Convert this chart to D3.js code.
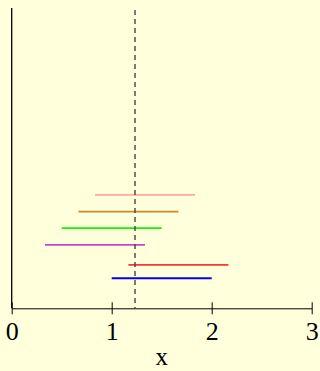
<!DOCTYPE html>
<html>
<head>
<meta charset="utf-8">
<script src="https://cdn.jsdelivr.net/npm/d3@7"></script>
<style>
  body { margin: 0; background: #ffffdc; }
  svg { display: block; }
  text { font-family: "Liberation Serif", "Times New Roman", Times, serif; }
</style>
</head>
<body>
<svg id="chart"></svg>
<script>
// interval segments, bottom to top
var segColors = ['#0000ff', '#ff3333', '#cc44cc', '#00ff00', '#cc8833', '#ffaaa0'];
var segLow = [1.0, 1.167, 0.333, 0.5, 0.667, 0.833];
var segHigh = [2.0, 2.167, 1.333, 1.5, 1.667, 1.833];
var segY = [1.8, 2.6, 3.8, 4.8, 5.8, 6.8];
var refX = 1.233;
var xTicks = [0, 1, 2, 3];
var xLabel = 'x';

var width = 320, height = 371;
var plotLeft = 11.7, plotRight = 311.7, plotTop = 8, plotBottom = 308.3;

var svg = d3.select('#chart')
	.attr('width', width)
	.attr('height', height)
	.style('background', '#ffffdc');

var x = d3.scaleLinear().domain([0, 3]).range([plotLeft, plotRight]);
var y = d3.scaleLinear().domain([0, 18]).range([plotBottom, plotTop]);

//y axis line
svg.append('line')
	.attr('x1', plotLeft).attr('x2', plotLeft)
	.attr('y1', plotTop).attr('y2', plotBottom)
	.attr('stroke', '#000')
	.attr('stroke-width', 1.3);

//x axis
var xAxis = svg.append('g')
	.attr('transform', 'translate(0,' + plotBottom + ')')
	.call(d3.axisBottom(x).tickValues(xTicks).tickFormat(d3.format('d'))
		.tickSizeInner(6).tickSizeOuter(0).tickPadding(7));

xAxis.attr('font-family', null);
xAxis.select('.domain').attr('stroke', '#000').attr('stroke-width', 1);
xAxis.selectAll('.tick line').attr('y1', -6).attr('y2', 6).attr('stroke', '#000');
xAxis.selectAll('.tick text')
	.attr('fill', '#000')
	.style('font-size', '26px');

svg.append('text')
	.attr('x', x(1.5))
	.attr('y', 365)
	.attr('text-anchor', 'middle')
	.style('font-size', '25px')
	.text(xLabel);

//segments
svg.selectAll('line.seg')
	.data(segY)
	.enter()
	.append('line')
	.attr('class', 'seg')
	.attr('x1', function(d, i) { return x(segLow[i]); })
	.attr('x2', function(d, i) { return x(segHigh[i]); })
	.attr('y1', function(d) { return y(d); })
	.attr('y2', function(d) { return y(d); })
	.attr('stroke', function(d, i) { return segColors[i]; })
	.attr('stroke-width', 1.8);

//reference line
svg.append('line')
	.attr('x1', x(refX)).attr('x2', x(refX))
	.attr('y1', 10).attr('y2', plotBottom)
	.attr('stroke', '#444')
	.attr('stroke-width', 1.4)
	.attr('stroke-dasharray', '5,4');
</script>
</body>
</html>
